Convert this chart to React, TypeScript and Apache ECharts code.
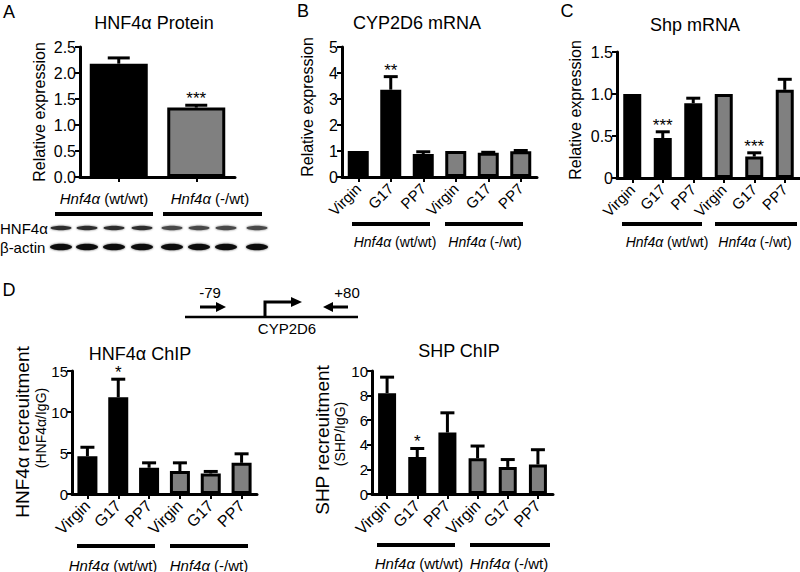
import React, { useEffect, useRef } from 'react';
import * as echarts from 'echarts';

const FONT = '"Liberation Sans", Arial, Helvetica, sans-serif';

// ---------- Data ----------
// Panel A: HNF4α protein
const aCategories = ['Hnf4α (wt/wt)', 'Hnf4α (-/wt)'];
const aValues = [2.18, 1.335];
const aErrors = [0.11, 0.045];
const aSig = ['', '***'];

// Shared treatment groups for B, C, D
const treatments = ['Virgin', 'G17', 'PP7', 'Virgin', 'G17', 'PP7'];
const genotypes = ['wt', 'wt', 'wt', 'het', 'het', 'het'];
const groupNames = ['Hnf4α (wt/wt)', 'Hnf4α (-/wt)'];

// Panel B: CYP2D6 mRNA
const bValues = [1.0, 3.36, 0.88, 1.0, 0.93, 0.99];
const bErrors = [0, 0.5, 0.09, 0, 0.02, 0.03];
const bSig = ['', '**', '', '', '', ''];

// Panel C: Shp mRNA
const cValues = [1.0, 0.475, 0.89, 1.0, 0.255, 1.05];
const cErrors = [0, 0.075, 0.06, 0, 0.045, 0.125];
const cSig = ['', '***', '', '', '***', ''];

// Panel D: HNF4α ChIP
const dlValues = [4.6, 11.8, 3.2, 2.8, 2.5, 3.8];
const dlErrors = [1.1, 2.2, 0.6, 1.0, 0.25, 1.1];
const dlSig = ['', '*', '', '', '', ''];

// Panel D: SHP ChIP
const drValues = [8.2, 3.0, 5.0, 2.9, 2.2, 2.4];
const drErrors = [1.3, 0.7, 1.6, 1.0, 0.6, 1.2];
const drSig = ['', '*', '', '', '', ''];

// Western blot lanes (4 wt, 4 het)
const blotLanes = ['wt', 'wt', 'wt', 'wt', 'het', 'het', 'het', 'het'];

// ---------- Helpers ----------
const WT_COLOR = '#000000';
const HET_COLOR = '#808080';

function barSeries(idx: number, values: number[], kinds: string[], barWidth: number) {
  return {
    type: 'bar',
    xAxisIndex: idx,
    yAxisIndex: idx,
    barWidth,
    z: 2,
    data: values.map((v, i) => ({
      value: v,
      itemStyle: { color: kinds[i] === 'wt' ? WT_COLOR : HET_COLOR, borderColor: '#000', borderWidth: 3 },
    })),
  };
}

function errorSeries(idx: number, values: number[], errors: number[], sig: string[], capHalf: number) {
  return {
    type: 'custom',
    xAxisIndex: idx,
    yAxisIndex: idx,
    z: 4,
    data: values.map((v, i) => [i, v, v + errors[i]]),
    renderItem: (params: any, api: any) => {
      const i = api.value(0);
      const v = api.value(1);
      const top = api.value(2);
      const p0 = api.coord([i, v]);
      const p1 = api.coord([i, top]);
      const children: any[] = [];
      if (top > v) {
        children.push({
          type: 'line',
          shape: { x1: p0[0], y1: p0[1], x2: p1[0], y2: p1[1] },
          style: { stroke: '#000', lineWidth: 3 },
        });
        children.push({
          type: 'line',
          shape: { x1: p1[0] - capHalf, y1: p1[1], x2: p1[0] + capHalf, y2: p1[1] },
          style: { stroke: '#000', lineWidth: 3 },
        });
      }
      const s = sig[params.dataIndex];
      if (s) {
        children.push({
          type: 'text',
          style: {
            text: s,
            x: p1[0],
            y: p1[1] + 2,
            textAlign: 'center',
            textVerticalAlign: 'bottom',
            font: `17px ${FONT}`,
            fill: '#000',
          },
        });
      }
      return { type: 'group', children };
    },
  };
}

function yAxisCfg(idx: number, max: number, interval: number, fontSize: number, formatter: (v: number) => string) {
  return {
    type: 'value',
    gridIndex: idx,
    min: 0,
    max,
    interval,
    axisLine: { show: true, lineStyle: { color: '#000', width: 3 } },
    axisTick: { show: true, length: 5, lineStyle: { color: '#000', width: 2 } },
    splitLine: { show: false },
    axisLabel: { color: '#000', fontSize, fontFamily: FONT, margin: 4, formatter },
  };
}

function xAxisCfg(idx: number, data: string[], rotate: number, fontSize: number, margin: number, showLabel = true) {
  return {
    type: 'category',
    gridIndex: idx,
    data,
    axisLine: { show: true, onZero: false, lineStyle: { color: '#000', width: 3 } },
    axisTick: { show: true, alignWithLabel: true, length: 5, lineStyle: { color: '#000', width: 2 } },
    axisLabel: { show: showLabel, color: '#000', fontSize, fontFamily: FONT, margin, rotate, interval: 0 },
  };
}

function txt(text: string, x: number, y: number, size: number, opts: any = {}) {
  return {
    type: 'text',
    x,
    y,
    rotation: opts.rotation || 0,
    silent: true,
    style: {
      text,
      textAlign: opts.align || 'center',
      textVerticalAlign: 'middle',
      font: `${size}px ${FONT}`,
      fill: '#000',
    },
  };
}

function groupLabel(text: string, x: number, y: number, size: number) {
  const k = text.indexOf(' ');
  return {
    type: 'text',
    x,
    y,
    silent: true,
    style: {
      text: '{i|' + text.slice(0, k) + '}{n|' + text.slice(k) + '}',
      textAlign: 'center',
      textVerticalAlign: 'middle',
      font: `${size}px ${FONT}`,
      fill: '#000',
      rich: {
        i: { fontStyle: 'italic', fontSize: size, fontFamily: FONT, fill: '#000' },
        n: { fontSize: size, fontFamily: FONT, fill: '#000' },
      },
    },
  };
}

function hline(x1: number, x2: number, y: number, w = 4) {
  return { type: 'line', silent: true, shape: { x1, y1: y, x2, y2: y }, style: { stroke: '#000', lineWidth: w } };
}

function buildGraphics() {
  const g: any[] = [];
  // panel letters
  g.push(txt('A', 9, 12, 18));
  g.push(txt('B', 303, 11, 18));
  g.push(txt('C', 567, 11, 18));
  g.push(txt('D', 9, 290, 18));
  // titles
  g.push(txt('HNF4α Protein', 154, 23, 18));
  g.push(txt('CYP2D6 mRNA', 417, 23, 18));
  g.push(txt('Shp mRNA', 695, 25, 18));
  g.push(txt('HNF4α ChIP', 140, 354, 18));
  g.push(txt('SHP ChIP', 459, 351, 18));
  // y axis names
  g.push(txt('Relative expression', 39, 112, 16, { rotation: Math.PI / 2 }));
  g.push(txt('Relative expression', 307, 107, 16, { rotation: Math.PI / 2 }));
  g.push(txt('Relative expression', 575, 110, 16, { rotation: Math.PI / 2 }));
  g.push(txt('HNF4α recreuitment', 22, 432, 19, { rotation: Math.PI / 2 }));
  g.push(txt('(HNF4α/IgG)', 41, 428, 14, { rotation: Math.PI / 2 }));
  g.push(txt('SHP recreuitment', 322, 440, 19, { rotation: Math.PI / 2 }));
  g.push(txt('(SHP/IgG)', 340, 434, 14, { rotation: Math.PI / 2 }));

  // Panel A category labels, group bars + blot
  g.push(groupLabel(aCategories[0], 104, 198, 15));
  g.push(groupLabel(aCategories[1], 210, 198, 15));
  g.push(hline(55, 153, 214));
  g.push(hline(163, 262, 214));
  g.push(txt('HNF4α', 0, 228, 15, { align: 'left' }));
  g.push(txt('β-actin', 0, 247, 15, { align: 'left' }));
  const laneX = [51, 77, 104, 132, 162, 189, 216, 247];
  blotLanes.forEach((kind, i) => {
    g.push({
      type: 'ellipse',
      silent: true,
      shape: { cx: laneX[i] + 10, cy: 228, rx: 10.5, ry: 2.2 },
      style: { fill: kind === 'wt' ? '#2e2e2e' : '#4a4a4a', shadowBlur: 2, shadowColor: '#777' },
    });
    g.push({
      type: 'ellipse',
      silent: true,
      shape: { cx: laneX[i] + 10, cy: 247, rx: 11, ry: 3.2 },
      style: { fill: '#111111', shadowBlur: 2, shadowColor: '#555' },
    });
  });

  // Panel B group bars
  g.push(hline(352, 430, 224));
  g.push(hline(445, 523, 224));
  g.push(groupLabel(groupNames[0], 395, 242, 14));
  g.push(groupLabel(groupNames[1], 485, 242, 14));
  // Panel C
  g.push(hline(622, 702, 224));
  g.push(hline(715, 797, 224));
  g.push(groupLabel(groupNames[0], 667, 242, 14));
  g.push(groupLabel(groupNames[1], 755, 242, 14));
  // Panel D left
  g.push(hline(77, 155, 546));
  g.push(hline(170, 248, 546));
  g.push(groupLabel(groupNames[0], 113, 565, 15));
  g.push(groupLabel(groupNames[1], 209, 565, 15));
  // Panel D right
  g.push(hline(377, 455, 545));
  g.push(hline(470, 550, 545));
  g.push(groupLabel(groupNames[0], 419, 563, 15));
  g.push(groupLabel(groupNames[1], 509, 563, 15));

  // CYP2D6 promoter diagram
  g.push(hline(185, 358, 317, 2.5));
  g.push({ type: 'polyline', silent: true, shape: { points: [[265, 318], [265, 302], [293, 302]] }, style: { stroke: '#000', lineWidth: 3, fill: null } });
  g.push({ type: 'polygon', silent: true, shape: { points: [[291, 297], [302, 302], [291, 307]] }, style: { fill: '#000' } });
  g.push(hline(200, 218, 307, 3));
  g.push({ type: 'polygon', silent: true, shape: { points: [[216, 302], [226, 307], [216, 312]] }, style: { fill: '#000' } });
  g.push(hline(330, 348, 307, 3));
  g.push({ type: 'polygon', silent: true, shape: { points: [[333, 302], [323, 307], [333, 312]] }, style: { fill: '#000' } });
  g.push(txt('-79', 210, 292, 15));
  g.push(txt('+80', 347, 292, 15));
  g.push(txt('CYP2D6', 287, 328, 15));
  return g;
}

export default function App() {
  const ref = useRef<HTMLDivElement>(null);
  useEffect(() => {
    if (!ref.current) return;
    const chart = echarts.init(ref.current, undefined, { renderer: 'svg' });
    const fmt1 = (v: number) => v.toFixed(1);
    const fmtC = (v: number) => (v === 0 ? '0' : v.toFixed(1));
    const fmtI = (v: number) => String(Math.round(v));
    chart.setOption({
      animation: false,
      backgroundColor: '#ffffff',
      textStyle: { fontFamily: FONT, color: '#000' },
      grid: [
        { left: 80, top: 47, width: 155, height: 130 },
        { left: 342, top: 47, width: 195, height: 130 },
        { left: 617, top: 52, width: 183, height: 126 },
        { left: 72, top: 371, width: 185, height: 123 },
        { left: 372, top: 371, width: 181, height: 123 },
      ],
      xAxis: [
        xAxisCfg(0, aCategories, 0, 15, 13, false),
        xAxisCfg(1, treatments, 45, 15, 9),
        xAxisCfg(2, treatments, 45, 15, 9),
        xAxisCfg(3, treatments, 45, 16, 9),
        xAxisCfg(4, treatments, 45, 16, 9),
      ],
      yAxis: [
        yAxisCfg(0, 2.5, 0.5, 16, fmt1),
        yAxisCfg(1, 5, 1, 16, fmtI),
        yAxisCfg(2, 1.5, 0.5, 16, fmtC),
        yAxisCfg(3, 15, 5, 15, fmtI),
        yAxisCfg(4, 10, 2, 15, fmtI),
      ],
      series: [
        barSeries(0, aValues, ['wt', 'het'], 58),
        errorSeries(0, aValues, aErrors, aSig, 11),
        barSeries(1, bValues, genotypes, 21),
        errorSeries(1, bValues, bErrors, bSig, 7),
        barSeries(2, cValues, genotypes, 18),
        errorSeries(2, cValues, cErrors, cSig, 7),
        barSeries(3, dlValues, genotypes, 20),
        errorSeries(3, dlValues, dlErrors, dlSig, 7),
        barSeries(4, drValues, genotypes, 18),
        errorSeries(4, drValues, drErrors, drSig, 7),
      ],
      graphic: buildGraphics(),
    });
    return () => chart.dispose();
  }, []);
  return <div ref={ref} style={{ position: 'fixed', left: 0, top: 0, width: 800, height: 572 }} />;
}
